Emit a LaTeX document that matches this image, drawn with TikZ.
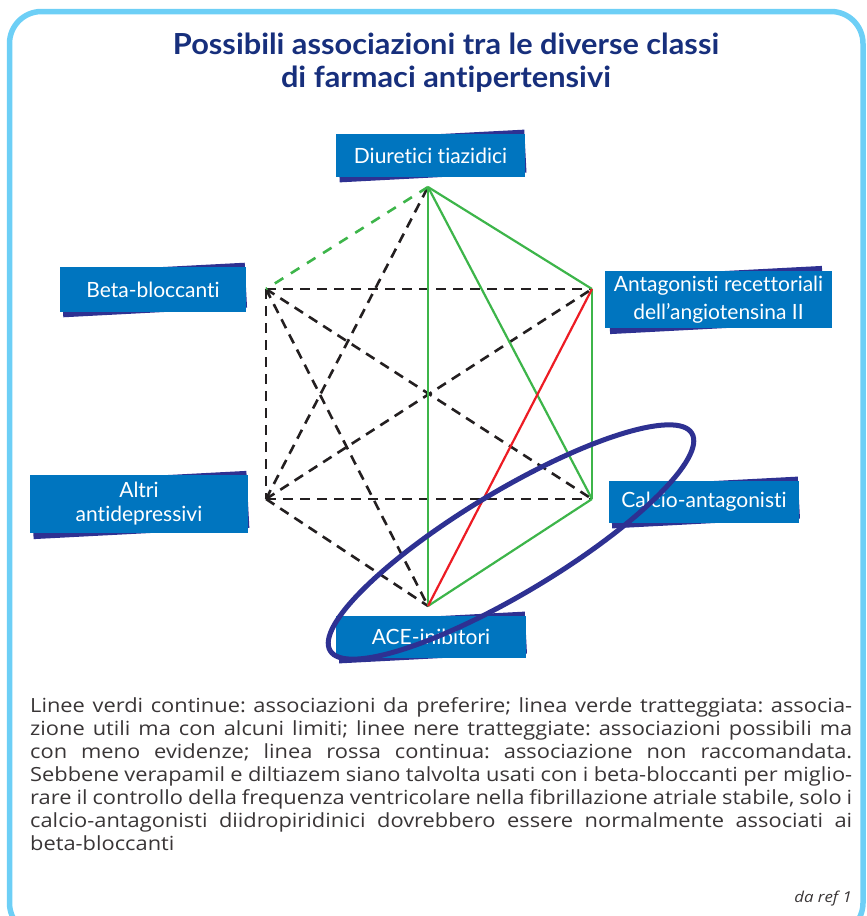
\documentclass[tikz,border=0pt]{standalone}
\usepackage{fontspec}
\setmainfont{Lato}[Ligatures=NoCommon]
\newfontfamily\capfont{Open Sans}[FakeStretch=1.12]
\newfontfamily\titfont{Lato}[FakeStretch=1.06, Ligatures=NoCommon]
\usetikzlibrary{calc}
\definecolor{lightblue}{HTML}{6DCFF6}
\definecolor{boxblue}{HTML}{0075BF}
\definecolor{navy}{HTML}{2E3192}
\definecolor{titlenavy}{HTML}{172F7C}
\definecolor{lgreen}{HTML}{3DB54A}
\definecolor{lred}{HTML}{ED1C24}
\definecolor{lblack}{HTML}{231F20}
\tikzset{
  lbl/.style={fill=boxblue, text=white, inner sep=0pt, align=center,
    font=\fontsize{21}{26}\selectfont},
  shad/.style={fill=navy, inner sep=0pt, rotate=3},
  pref/.style={draw=lgreen, line width=2.2pt},
  prefdash/.style={draw=lgreen, line width=2.6pt, dash pattern=on 10pt off 9pt},
  poss/.style={draw=lblack, line width=2.6pt, dash pattern=on 10pt off 7pt},
  nonrac/.style={draw=lred, line width=2.2pt},
  tit/.style={anchor=base, text=titlenavy, font=\titfont\fontsize{29}{34}\bfseries\selectfont},
}
\begin{document}
\begin{tikzpicture}[x=1pt,y=-1pt]
\useasboundingbox (0,0) rectangle (867,916);
% frame
\draw[lightblue, line width=5.5pt, rounded corners=32pt] (9.5,11.5) rectangle (863,935);
% title
\node[tit] (t1) at (446,54) {Possibili associazioni tra le diverse classi};
\node[tit] (t2) at (446,87) {di farmaci antipertensivi};
% vertices
\coordinate (vD) at (428,187);
\coordinate (vB) at (266,289);
\coordinate (vA) at (592,289);
\coordinate (vO) at (266,499);
\coordinate (vC) at (592,499);
\coordinate (vE) at (428,606);
% connectors
\draw[poss] (vB) -- (vA);
\draw[poss] (vB) -- (vO);
\draw[poss] (vB) -- (vC);
\draw[poss] (vB) -- (vE);
\draw[poss] (vO) -- (vD);
\draw[poss] (vO) -- (vA);
\draw[poss] (vO) -- (vC);
\draw[poss] (vO) -- (vE);
\draw[prefdash] (vD) -- (vB);
\draw[pref] (vD) -- (vA);
\draw[pref] (vD) -- (vC);
\draw[pref] (vD) -- (vE);
\draw[pref] (vA) -- (vC);
\draw[pref] (vC) -- (vE);
\draw[nonrac] (vA) -- (vE);
% label boxes
\node[shad, minimum width=187pt, minimum height=43pt] at (432,156) {};
\node[lbl, minimum width=189pt, minimum height=43pt] (diu) at (430.5,155.5) {Diuretici tiazidici};
\node[shad, minimum width=184pt, minimum height=45pt] at (154,290) {};
\node[lbl, minimum width=186pt, minimum height=45pt] (beta) at (153,289.5) {Beta-bloccanti};
\node[shad, minimum width=215pt, minimum height=57pt] at (716,300) {};
\node[lbl, minimum width=227pt, minimum height=57pt, font=\fontsize{21}{28}\selectfont] (arb) at (718.5,299.5) {Antagonisti recettoriali\\dell’angiotensina II};
\node[shad, minimum width=216pt, minimum height=57pt] at (140,505) {};
\node[lbl, minimum width=218pt, minimum height=58pt, font=\fontsize{21}{24}\selectfont] (altri) at (139,504) {Altri\\antidepressivi};
\node[shad, minimum width=188pt, minimum height=42pt] at (705,502.5) {};
\node[lbl, minimum width=190pt, minimum height=42pt] (calc) at (704,502) {Calcio-antagonisti};
\node[shad, minimum width=188pt, minimum height=42pt] at (432,637.5) {};
\node[lbl, minimum width=190pt, minimum height=42pt] (ace) at (431,637) {ACE-inibitori};
% ellipse
\draw[navy, line width=5pt, rotate around={31:(511,542)}] (511,542) ellipse [x radius=211pt, y radius=51pt];
% caption
\node[anchor=north west, inner sep=0pt, text width=822pt, align=justify, text=lblack!90,
  font=\capfont\fontsize{19.5}{23}\selectfont\frenchspacing] (cap) at (30,697) {%
Linee verdi continue: associazioni da preferire; linea verde tratteggiata: associa-\linebreak
zione utili ma con alcuni limiti; linee nere tratteggiate: associazioni possibili ma\linebreak
con meno evidenze; linea rossa continua: associazione non raccomandata.\linebreak
Sebbene verapamil e diltiazem siano talvolta usati con i beta-bloccanti per miglio-\linebreak
rare il controllo della frequenza ventricolare nella fibrillazione atriale stabile, solo i\linebreak
calcio-antagonisti diidropiridinici dovrebbero essere normalmente associati ai\linebreak
beta-bloccanti\par};
\node[anchor=base east, inner sep=0pt, text=lblack!90, font=\capfont\fontsize{15}{18}\itshape\selectfont] (ref) at (852,902) {da ref 1};
\end{tikzpicture}
\end{document}
